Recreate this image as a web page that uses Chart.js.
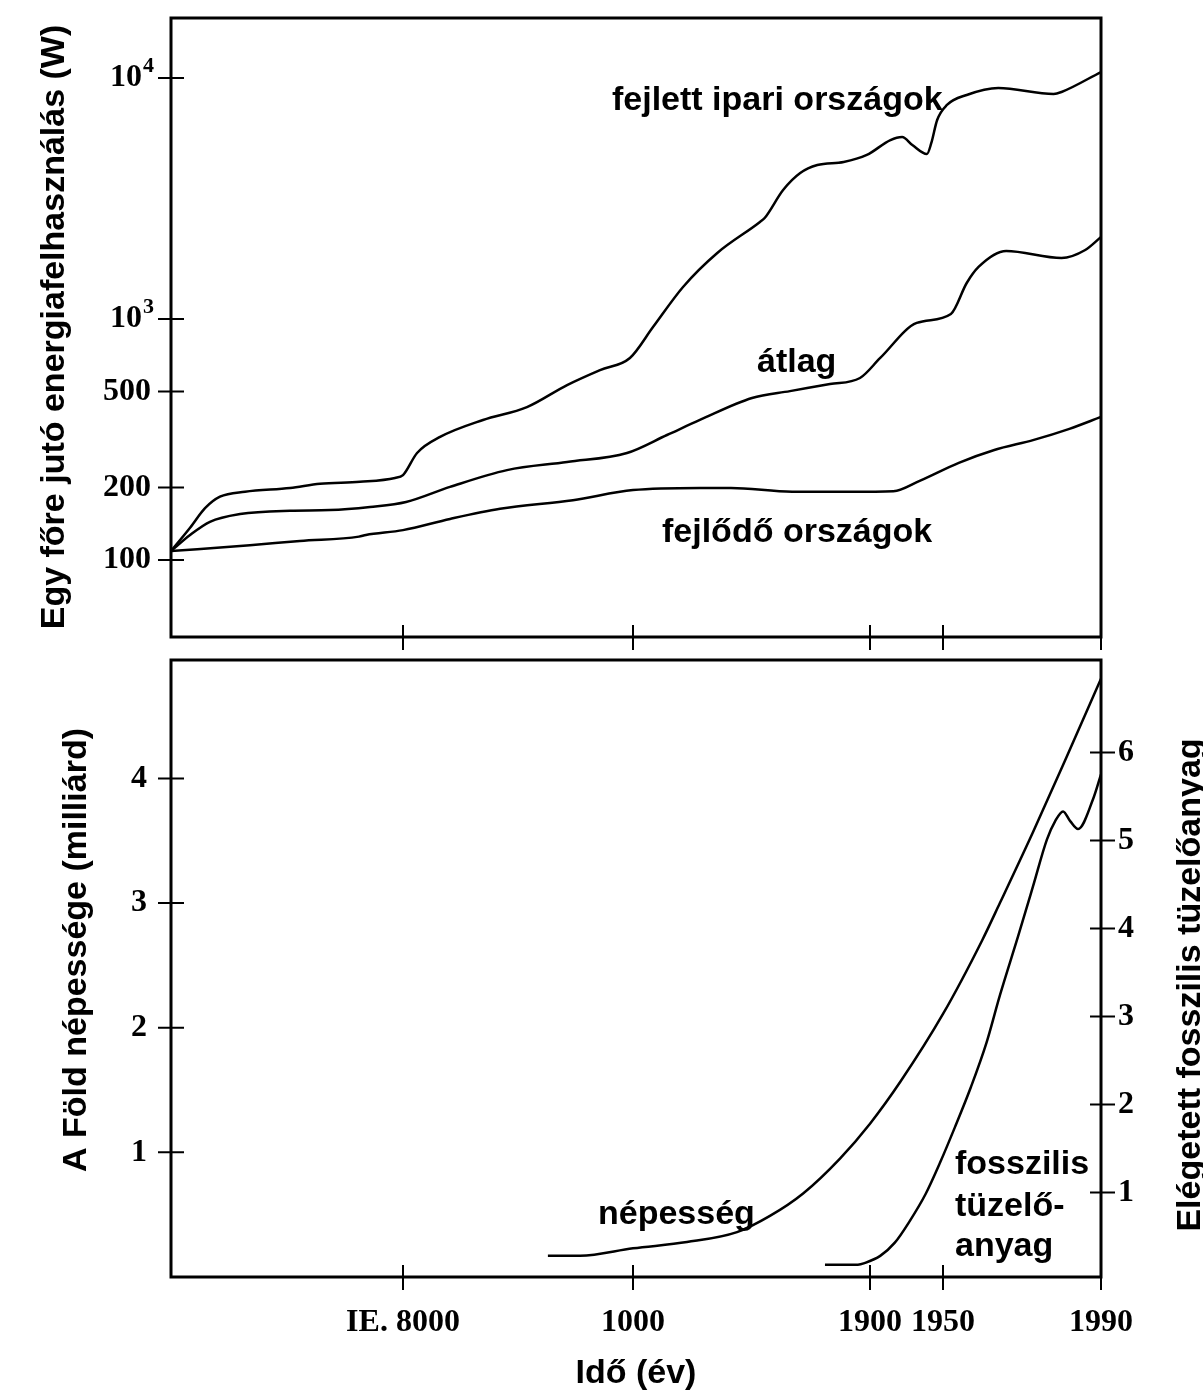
<!DOCTYPE html>
<html>
<head>
<meta charset="utf-8">
<script src="https://cdn.jsdelivr.net/npm/chart.js@4"></script>
<style>
body { margin: 0; background: #fff; width: 1203px; height: 1394px; overflow: hidden; }
canvas { position: absolute; left: 0; }
#energy-chart { top: 0; }
#population-chart { top: 650px; }
</style>
</head>
<body>
<canvas id="energy-chart" width="1203" height="650"></canvas>
<canvas id="population-chart" width="1203" height="744"></canvas>
<script>
const timeTicks = [-8000, 1000, 1900, 1950, 1990];
const timeLabels = ['IE. 8000', '1000', '1900', '1950', '1990'];
const energyTicks = [100, 200, 500, 1000, 10000];
const energyLabels = ['100', '200', '500', '10^3', '10^4'];
const populationTicks = [1, 2, 3, 4];
const fuelTicks = [1, 2, 3, 4, 5, 6];

const developedYears = [-17000, -16260, -15680, -15100, -14130, -12380, -11220, -9670, -8310, -8000, -7450, -6550, -4870, -3150, -1580, -290, 880, 1076, 1190, 1320, 1482, 1500, 1570, 1635, 1700, 1800, 1888, 1914, 1922, 1929, 1939, 1942, 1946, 1951, 1956, 1964, 1978, 1980, 1990];
const developedWatts = [109, 136, 164, 183, 192, 199, 207, 211, 219, 225, 278, 324, 381, 431, 532, 614, 689, 926, 1358, 1879, 2526, 2625, 3430, 4035, 4355, 4482, 4792, 5528, 5690, 5272, 4837, 5374, 6694, 7727, 8503, 9090, 8581, 8748, 10590];

const averageYears = [-17000, -16260, -15490, -14320, -12380, -10830, -9280, -7880, -6160, -3930, -1580, 765, 1129, 1254, 1452, 1596, 1748, 1862, 1907, 1932, 1952, 1956, 1959, 1966, 1980, 1986, 1990];
const averageWatts = [109, 127, 144, 155, 160, 161, 166, 174, 201, 236, 255, 278, 330, 381, 470, 502, 537, 569, 689, 963, 1049, 1410, 1644, 1915, 1791, 1933, 2189];

const developingYears = [-17000, -13940, -12000, -9710, -9440, -8000, -6160, -4200, -1350, 1000, 1254, 1372, 1604, 1824, 1916, 1934, 1954, 1963, 1973, 1982, 1990];
const developingWatts = [109, 115, 120, 125, 127, 133, 148, 163, 177, 195, 199, 199, 192, 192, 193, 213, 253, 286, 315, 350, 392];

const populationYears = [-2330, -1070, 1000, 1205, 1395, 1520, 1646, 1786, 1900, 1921, 1950, 1959.9, 1964.4, 1972.8, 1981.4, 1990];
const populationBillions = [0.17, 0.17, 0.23, 0.28, 0.36, 0.49, 0.67, 0.95, 1.23, 1.57, 2.11, 2.70, 3.0, 3.57, 4.18, 4.80];

const fuelYears = [1729, 1854, 1881, 1907, 1917, 1927, 1938, 1948, 1953, 1957, 1961, 1964.4, 1969, 1972.8, 1976.3, 1978.4, 1980.4, 1982.2, 1984.2, 1988, 1990];
const fuelAmount = [0.18, 0.18, 0.20, 0.28, 0.43, 0.67, 0.98, 1.34, 1.74, 2.19, 2.70, 3.24, 3.91, 4.48, 5.01, 5.22, 5.33, 5.22, 5.13, 5.47, 5.75];

// the time axis is stretched piecewise, like in the original drawing
const warpYears = [-17000, -8000, 1000, 1900, 1950, 1990];
const warpPos = [0, 232, 462, 699, 772, 930];

function yearToPos(year) {
    for (let i = 1; i < warpYears.length; i++) {
        if (year <= warpYears[i]) {
            const t = (year - warpYears[i - 1]) / (warpYears[i] - warpYears[i - 1]);
            return warpPos[i - 1] + t * (warpPos[i] - warpPos[i - 1]);
        }
    }
    return warpPos[warpPos.length - 1];
}

function points(years, values) {
    return years.map((yr, i) => ({ x: yearToPos(yr), y: values[i] }));
}

const sansFont = 'bold 34px "Liberation Sans", Arial, sans-serif';
const serifFamily = '"Liberation Serif", "Times New Roman", serif';
const serifFont = { family: serifFamily, size: 32, weight: 'bold' };

function lineSet(data, axis) {
    return {
        data: data,
        yAxisID: axis,
        borderColor: '#000',
        borderWidth: 2.5,
        pointRadius: 0,
        fill: false,
        cubicInterpolationMode: 'monotone'
    };
}

function noPadding(scale) {
    scale.paddingTop = 0;
    scale.paddingBottom = 0;
    scale.paddingLeft = 0;
    scale.paddingRight = 0;
}

function timeAxis(showLabels, height) {
    return {
        type: 'linear',
        min: 0,
        max: 930,
        grid: { display: false, drawTicks: false },
        border: { display: false },
        afterBuildTicks: scale => { scale.ticks = timeTicks.map(y => ({ value: yearToPos(y) })); },
        afterFit: scale => { scale.height = height; noPadding(scale); },
        ticks: {
            display: showLabels,
            autoSkip: false,
            maxRotation: 0,
            padding: 27,
            color: '#000',
            font: serifFont,
            callback: (v, i) => timeLabels[i]
        }
    };
}

function valueAxis(ticks, min, max, width, position, padding) {
    return {
        type: 'linear',
        position: position,
        min: min,
        max: max,
        grid: { display: false, drawTicks: false },
        border: { display: false },
        afterBuildTicks: scale => { scale.ticks = ticks.map(v => ({ value: v })); },
        afterFit: scale => { scale.width = width; noPadding(scale); },
        ticks: { autoSkip: false, padding: padding, color: '#000', font: serifFont }
    };
}

const framePlugin = {
    id: 'frame',
    afterDraw(chart) {
        const { ctx, chartArea: a, scales } = chart;
        ctx.save();
        ctx.strokeStyle = '#000';
        ctx.lineWidth = 2;
        ctx.beginPath();
        scales.x.ticks.forEach(t => {
            const px = scales.x.getPixelForValue(t.value);
            ctx.moveTo(px, a.bottom - 12);
            ctx.lineTo(px, a.bottom + 13);
        });
        scales.y.ticks.forEach(t => {
            const py = scales.y.getPixelForValue(t.value);
            ctx.moveTo(a.left - 13, py);
            ctx.lineTo(a.left + 13, py);
        });
        if (scales.y1) {
            scales.y1.ticks.forEach(t => {
                const py = scales.y1.getPixelForValue(t.value);
                ctx.moveTo(a.right - 11, py);
                ctx.lineTo(a.right + 14, py);
            });
        }
        ctx.stroke();
        ctx.lineWidth = 3;
        ctx.strokeRect(a.left, a.top, a.right - a.left, a.bottom - a.top);
        ctx.restore();
    }
};

// log axis labels with real superscripts (10^3, 10^4)
const powerLabels = {
    id: 'powerLabels',
    afterDraw(chart) {
        const { ctx, scales } = chart;
        const right = 154;
        ctx.save();
        ctx.fillStyle = '#000';
        scales.y.ticks.forEach((t, i) => {
            const py = scales.y.getPixelForValue(t.value);
            const parts = energyLabels[i].split('^');
            ctx.textBaseline = 'middle';
            ctx.textAlign = 'right';
            if (parts.length === 2) {
                ctx.font = 'bold 22px ' + serifFamily;
                const w = ctx.measureText(parts[1]).width;
                ctx.fillText(parts[1], right, py - 12);
                ctx.font = 'bold 32px ' + serifFamily;
                ctx.fillText(parts[0], right - w - 1, py);
            } else {
                ctx.font = 'bold 32px ' + serifFamily;
                ctx.fillText(parts[0], right - 3, py);
            }
        });
        ctx.restore();
    }
};

function textPlugin(items) {
    return {
        id: 'texts',
        afterDraw(chart) {
            const ctx = chart.ctx;
            ctx.save();
            ctx.fillStyle = '#000';
            ctx.font = sansFont;
            items.forEach(it => {
                ctx.save();
                ctx.translate(it.x, it.y);
                if (it.rot) ctx.rotate(it.rot);
                ctx.textAlign = it.align || 'left';
                ctx.textBaseline = it.baseline || 'alphabetic';
                ctx.fillText(it.text, 0, 0);
                ctx.restore();
            });
            ctx.restore();
        }
    };
}

const energyY = valueAxis(energyTicks, 47.9, 17740, 171, 'left', 20);
energyY.type = 'logarithmic';
energyY.ticks.display = false;

new Chart(document.getElementById('energy-chart'), {
    type: 'line',
    data: {
        datasets: [
            lineSet(points(developedYears, developedWatts), 'y'),
            lineSet(points(averageYears, averageWatts), 'y'),
            lineSet(points(developingYears, developingWatts), 'y')
        ]
    },
    options: {
        responsive: false,
        animation: false,
        layout: { padding: { top: 18, right: 102, left: 0, bottom: 0 } },
        plugins: { legend: { display: false }, tooltip: { enabled: false } },
        scales: {
            x: timeAxis(false, 13),
            y: energyY
        }
    },
    plugins: [framePlugin, powerLabels, textPlugin([
        { text: 'Egy főre jutó energiafelhasználás (W)', x: 55, y: 327, rot: -Math.PI / 2, align: 'center', baseline: 'middle' },
        { text: 'fejlett ipari országok', x: 612, y: 110 },
        { text: 'átlag', x: 757, y: 372 },
        { text: 'fejlődő országok', x: 662, y: 542 }
    ])]
});

new Chart(document.getElementById('population-chart'), {
    type: 'line',
    data: {
        datasets: [
            lineSet(points(populationYears, populationBillions), 'y'),
            lineSet(points(fuelYears, fuelAmount), 'y1')
        ]
    },
    options: {
        responsive: false,
        animation: false,
        layout: { padding: { top: 10, right: 0, left: 0, bottom: 0 } },
        plugins: { legend: { display: false }, tooltip: { enabled: false } },
        scales: {
            x: timeAxis(true, 117),
            y: valueAxis(populationTicks, 0, 4.95, 171, 'left', 24),
            y1: valueAxis(fuelTicks, 0.04, 7.05, 102, 'right', 17)
        }
    },
    plugins: [framePlugin, textPlugin([
        { text: 'A Föld népessége (milliárd)', x: 77, y: 300, rot: -Math.PI / 2, align: 'center', baseline: 'middle' },
        { text: 'Elégetett fosszilis tüzelőanyag', x: 1191, y: 335, rot: -Math.PI / 2, align: 'center', baseline: 'middle' },
        { text: 'Idő (év)', x: 636, y: 724, align: 'center', baseline: 'middle' },
        { text: 'népesség', x: 598, y: 574 },
        { text: 'fosszilis', x: 955, y: 524 },
        { text: 'tüzelő-', x: 955, y: 566 },
        { text: 'anyag', x: 955, y: 606 }
    ])]
});
</script>
</body>
</html>
